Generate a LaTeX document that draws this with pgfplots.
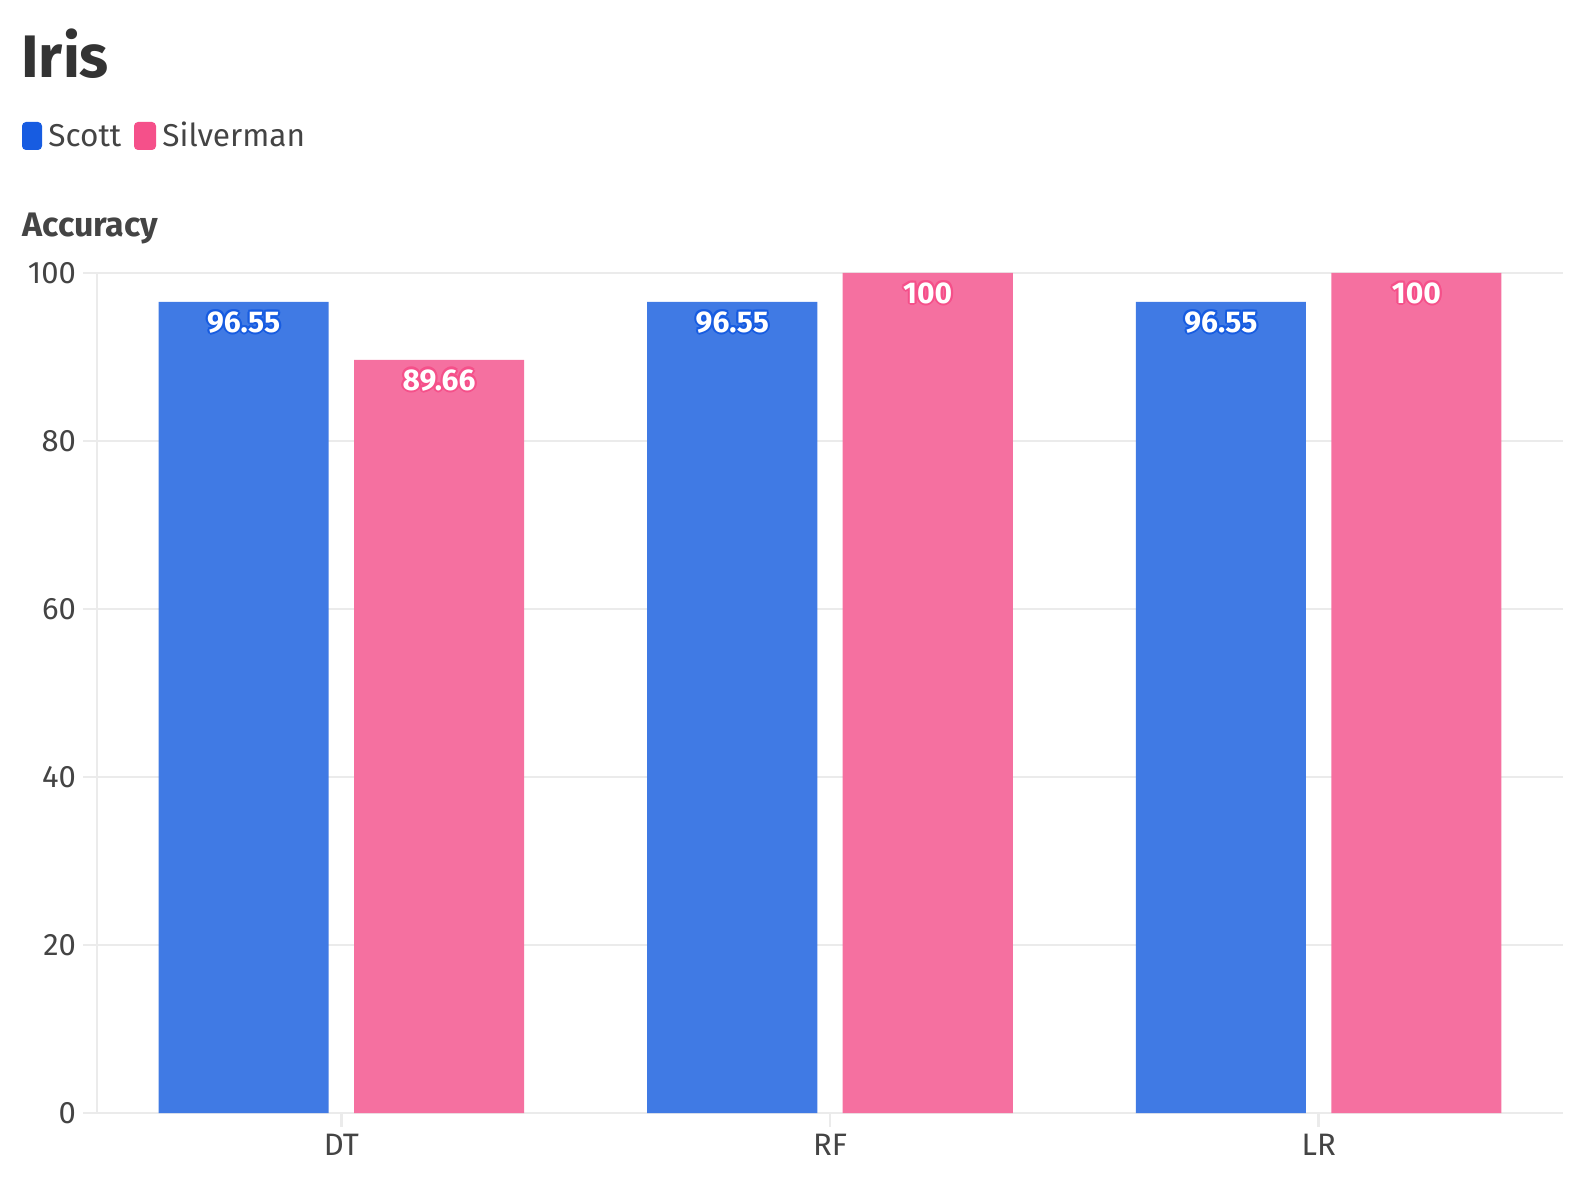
\documentclass[border=0pt]{standalone}
\usepackage{pgfplots}
\usepackage{pgfplotstable}
\pgfplotsset{compat=1.18}
\usepackage{fontspec}
\setmainfont{Fira Sans}
\definecolor{scottc}{HTML}{175CE1}
\definecolor{silvc}{HTML}{F5508A}
\definecolor{scottbar}{HTML}{407AE4}
\definecolor{silvbar}{HTML}{F570A0}
\definecolor{gridc}{HTML}{EBEBEB}
\definecolor{txt}{HTML}{444444}
\definecolor{ttl}{HTML}{333333}
\newcommand\olp[4]{\makebox[0pt]{\raisebox{#2}{\textcolor{#3}{\kern#1\relax#4\kern-#1\relax}}}}
\newcommand\olbl[2]{\olp{1.1pt}{0pt}{#1}{#2}\olp{-1.1pt}{0pt}{#1}{#2}\olp{0pt}{1.1pt}{#1}{#2}\olp{0pt}{-1.1pt}{#1}{#2}\olp{.78pt}{.78pt}{#1}{#2}\olp{-.78pt}{.78pt}{#1}{#2}\olp{.78pt}{-.78pt}{#1}{#2}\olp{-.78pt}{-.78pt}{#1}{#2}\olp{0pt}{0pt}{white}{#2}}
\pgfplotstableread{
x y lbl
0 96.55 96.55
1 96.55 96.55
2 96.55 96.55
}\scott
\pgfplotstableread{
x y lbl
0 89.66 89.66
1 100 100
2 100 100
}\silv
\begin{document}
\begin{tikzpicture}
\path[use as bounding box] (0,0) rectangle (795pt,-593pt);
\node[anchor=base west, inner sep=0pt, text=ttl, font=\bfseries\fontsize{30}{34}\selectfont] at (10.5pt,-39pt) {Iris};
\fill[scottc, rounded corners=2pt] (11pt,-61pt) rectangle (21pt,-75pt);
\node[anchor=base west, inner sep=0pt, text=txt, font=\fontsize{15.8}{19}\selectfont] at (24pt,-73.5pt) {Scott};
\fill[silvc, rounded corners=2pt] (67pt,-61pt) rectangle (78pt,-75pt);
\node[anchor=base west, inner sep=0pt, text=txt, font=\fontsize{15.8}{19}\selectfont] at (81pt,-73.5pt) {Silverman};
\node[anchor=base west, inner sep=0pt, text=txt, font=\bfseries\fontsize{17}{20}\selectfont] at (11pt,-118.5pt) {Accuracy};
\begin{axis}[
  at={(48.5pt,-556.5pt)}, anchor=south west,
  scale only axis, width=733pt, height=420pt,
  xmin=-0.5, xmax=2.5, ymin=0, ymax=100,
  xtick={0,1,2}, xticklabels={DT,RF,LR},
  ytick={0,20,...,100},
  ybar, bar width=0.348,
  axis x line*=bottom, axis y line*=left,
  axis line style={gridc, line width=1.2pt, -},
  ymajorgrids, grid style={gridc, line width=1.2pt},
  tick align=outside, major tick length=7pt,
  tick style={gridc, line width=1.2pt},
  ticklabel style={font=\fontsize{15.5}{18}\selectfont, text=txt},
  /pgf/number format/assume math mode=true,
  point meta=explicit symbolic,
  every node near coord/.append style={anchor=north, inner sep=0pt, yshift=-3.5pt, font=\bfseries\fontsize{15}{18}\selectfont},
  clip=false,
]
\addplot[fill=scottbar, draw=none, bar shift=-0.2, nodes near coords={\olbl{scottc}{\pgfplotspointmeta}}] table[x=x, y=y, meta=lbl] {\scott};
\addplot[fill=silvbar, draw=none, bar shift=0.2, nodes near coords={\olbl{silvc}{\pgfplotspointmeta}}] table[x=x, y=y, meta=lbl] {\silv};
\end{axis}
\end{tikzpicture}
\end{document}
